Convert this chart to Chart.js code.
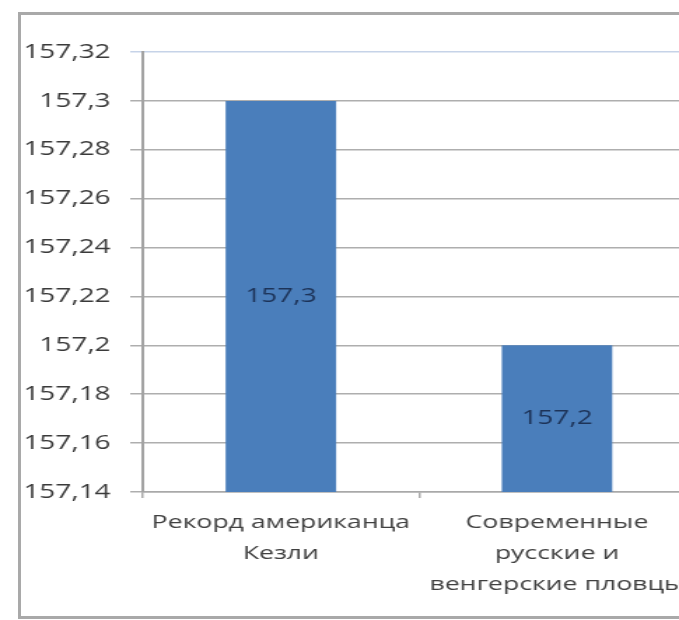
<!DOCTYPE html>
<html>
<head>
<meta charset="utf-8">
<script src="https://cdn.jsdelivr.net/npm/chart.js@4/dist/chart.umd.min.js"></script>
<style>
    html, body { margin: 0; padding: 0; background: #fff; overflow: hidden; }
    #frame {
        position: absolute; left: 18px; top: 12px; width: 720px; height: 601px;
        border: 3px solid #a9a9a9; background: #fff;
    }
    #chart {
        position: absolute; left: 0; top: 0;
        transform: scaleX(1.4); transform-origin: 0 0;
    }
</style>
</head>
<body>
<div id="frame"></div>
<canvas id="chart" width="515" height="620"></canvas>
<script>
// 200 m breaststroke times, seconds
const categories = [
    ['Рекорд американца', 'Кезли'],
    ['Современные', 'русские и', 'венгерские пловцы']
];
const times = [157.3, 157.2];

const yMin = 157.14;
const yMax = 157.32;
const yStep = 0.02;

function fmt(v) {
    return String(Number(v.toFixed(2))).replace('.', ',');
}

// value label in the middle of each bar
const barLabels = {
    id: 'barLabels',
    afterDraw(chart) {
        const ctx = chart.ctx;
        const y = chart.scales.y;
        const x = chart.scales.x;
        ctx.save();
        ctx.font = '20px "Open Sans"';
        ctx.fillStyle = '#1d3358';
        ctx.textAlign = 'center';
        ctx.textBaseline = 'middle';
        times.forEach((t, i) => {
            const top = y.getPixelForValue(t);
            const bottom = y.getPixelForValue(yMin);
            ctx.fillText(fmt(t), x.getPixelForValue(i), (top + bottom) / 2);
        });
        ctx.restore();
    }
};

Chart.defaults.font.family = '"Open Sans"';

new Chart(document.getElementById('chart'), {
    type: 'bar',
    data: {
        labels: categories,
        datasets: [{
            data: times,
            backgroundColor: '#4a7ebb',
            borderWidth: 0,
            barPercentage: 0.5,
            categoryPercentage: 0.8
        }]
    },
    options: {
        responsive: false,
        animation: false,
        layout: { padding: { top: 52, right: 18.5, left: 0, bottom: 0 } },
        plugins: {
            legend: { display: false },
            tooltip: { enabled: false }
        },
        scales: {
            x: {
                afterFit: (axis) => { axis.height = 128; },
                grid: {
                    drawOnChartArea: false,
                    tickLength: 6,
                    color: '#a9a9a9',
                    lineWidth: 1.5
                },
                border: { color: '#a9a9a9', width: 1.5 },
                ticks: {
                    padding: 9,
                    color: '#404040',
                    font: { size: 19, lineHeight: 1.63 },
                    maxRotation: 0,
                    autoSkip: false
                }
            },
            y: {
                min: yMin,
                max: yMax,
                afterFit: (axis) => { axis.width = 102; },
                grid: {
                    tickLength: 9,
                    color: (c) => c.tick && Math.abs(c.tick.value - yMax) < 1e-6 ? '#c6d3e8' : '#aeaeae',
                    lineWidth: 1.5
                },
                border: { color: '#a3a3a3', width: 2 },
                ticks: {
                    stepSize: yStep,
                    padding: 14,
                    color: '#3a3a3a',
                    font: { size: 20 },
                    callback: (v) => fmt(v)
                }
            }
        }
    },
    plugins: [barLabels]
});
</script>
</body>
</html>
